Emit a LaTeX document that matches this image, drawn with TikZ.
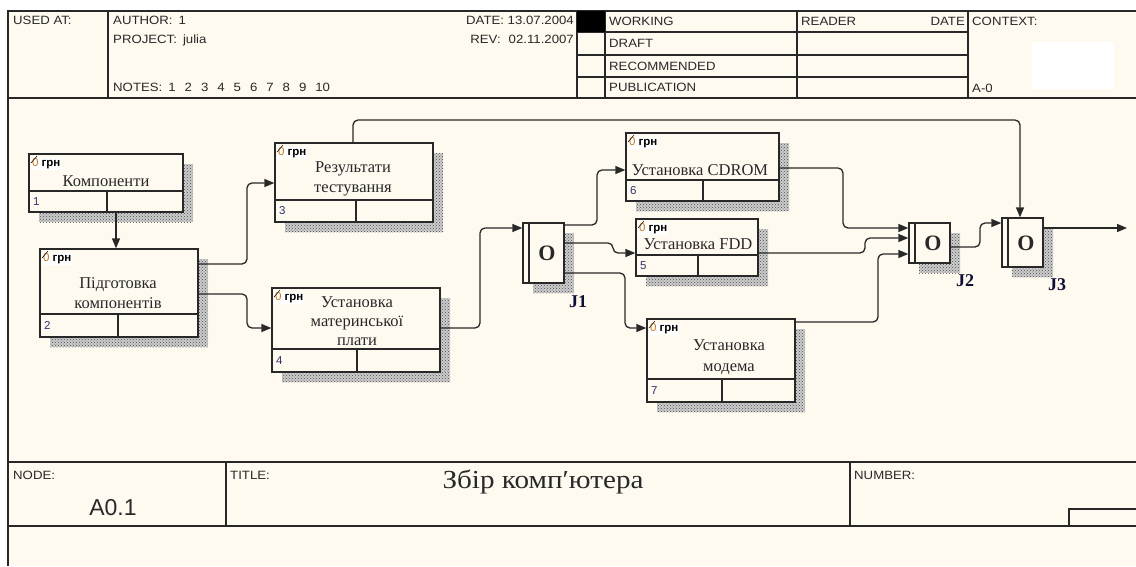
\documentclass[tikz,border=0pt]{standalone}
\usepackage{fontspec}
\setmainfont{Liberation Serif}
\setsansfont{Liberation Sans}
\newfontfamily\hdrfont[FakeStretch=1.1]{Liberation Sans}
\usetikzlibrary{arrows.meta,patterns,fit}
\definecolor{bg}{RGB}{255,250,240}
\definecolor{ln}{RGB}{40,40,40}
\definecolor{zero}{RGB}{200,120,30}
\definecolor{numc}{RGB}{50,50,110}
\newcommand\actbox[8]{%
  \fill[shadowst] (#2+10,#3+10) rectangle (#4+10,#5+10);
  \fill[shadowpat] (#2+10,#3+10) rectangle (#4+10,#5+10);
  \node[actst, fit={(#2,#3) (#4,#5)}] (#1) {};
  \draw[boxln] (#2,#6) -- (#4,#6) (#7,#6) -- (#7,#5);
  \node[costst] at (#2+2,#3+10) {\textcolor{zero}{\mdseries 0} грн};
  \draw[line width=0.5pt] (#2+2,#3+9) -- (#2+8,#3+2);
  \node[numst] at (#2+4,{(#6+#5)/2}) {#8};
}
\newcommand\jshadow[4]{%
  \fill[shadowst] (#1,#2) rectangle (#3,#4);
  \fill[shadowpat] (#1,#2) rectangle (#3,#4);
}
\begin{document}
\begin{tikzpicture}[x=1pt,y=-1pt,
  frame/.style={draw=ln,line width=1.6pt},
  boxln/.style={draw=ln,line width=1.2pt},
  shadowst/.style={fill=gray!40},
  shadowpat/.style={pattern=crosshatch dots,pattern color=black!70},
  actst/.style={draw=ln,fill=bg,line width=1.3pt,inner sep=0pt},
  juncst/.style={draw=ln,fill=bg,line width=1.3pt,inner sep=0pt},
  costst/.style={anchor=west,fill=white,inner sep=0.8pt,font=\sffamily\bfseries\fontsize{11.5}{12}\selectfont},
  numst/.style={anchor=west,inner sep=0pt,text=numc,font=\sffamily\fontsize{11.5}{12}\selectfont},
  btext/.style={align=center,inner sep=0pt,font=\fontsize{16.5}{20}\selectfont,text=ln},
  ofont/.style={inner sep=0pt,font=\bfseries\fontsize{22}{24}\selectfont,text=ln},
  jlab/.style={inner sep=0pt,font=\bfseries\fontsize{18}{20}\selectfont,text=ln!70!blue!50!black},
  hdr/.style={anchor=base west,inner sep=0pt,text=ln,font=\hdrfont\fontsize{12}{13}\selectfont},
  hdrr/.style={hdr,anchor=base east},
  conn/.style={draw=ln,line width=1.3pt,rounded corners=5pt,-{Triangle[length=10pt,width=8pt]}}
]
\useasboundingbox (0,0) rectangle (1136,566);
\fill[white] (0,0) rectangle (1136,566);
\fill[bg] (8,11) rectangle (1136,566);
% ---- header frame
\draw[frame] (1136,11) -- (8,11) -- (8,566);
\draw[frame] (8,98) -- (1136,98);
\draw[frame] (108,11) -- (108,98);
\draw[frame] (577,11) -- (577,98);
\draw[frame] (605,11) -- (605,98);
\draw[frame] (797,11) -- (797,98);
\draw[frame] (968,11) -- (968,98);
\draw[frame] (577,32) -- (968,32) (577,55) -- (968,55) (577,77) -- (968,77);
\fill[black] (577,11) rectangle (605,32);
\fill[white] (1032,42) rectangle (1114,89);
% ---- header text
\node[hdr] (usedat) at (13,24) {USED AT:};
\node[hdr] (author) at (113,24) {AUTHOR:\hspace{6pt}1};
\node[hdr] (project) at (113,43) {PROJECT:\hspace{6pt}julia};
\node[hdr] (notes) at (113,91) {NOTES:\hspace{6pt}1\hspace{9pt}2\hspace{9pt}3\hspace{9pt}4\hspace{9pt}5\hspace{9pt}6\hspace{9pt}7\hspace{9pt}8\hspace{9pt}9\hspace{9pt}10};
\node[hdrr] (date) at (574,24) {DATE: 13.07.2004};
\node[hdrr] (rev) at (574,43) {REV:\hspace{8pt}02.11.2007};
\node[hdr] (working) at (609,25) {WORKING};
\node[hdr] (draft) at (609,47) {DRAFT};
\node[hdr] (recom) at (609,70) {RECOMMENDED};
\node[hdr] (public) at (609,91) {PUBLICATION};
\node[hdr] (reader) at (801,25) {READER};
\node[hdrr] (rdate) at (965,25) {DATE};
\node[hdr] (context) at (972,25) {CONTEXT:};
\node[hdr] (azero) at (972,92) {A-0};
% ---- footer
\draw[frame] (8,462) -- (1136,462);
\draw[frame] (8,526) -- (1136,526);
\draw[frame] (226,462) -- (226,526);
\draw[frame] (850,462) -- (850,526);
\draw[boxln] (1136,509) -- (1069,509) -- (1069,526);
\node[hdr] (nodelbl) at (13,479) {NODE:};
\node[hdr] (titlelbl) at (230,479) {TITLE:};
\node[hdr] (numlbl) at (854,479) {NUMBER:};
\node[inner sep=0pt,text=ln,font=\sffamily\fontsize{23}{26}\selectfont] (nodeno) at (113,508) {A0.1};
\node[inner sep=0pt,text=ln,font=\fontsize{26}{28}\selectfont\addfontfeature{FakeStretch=1.12},anchor=base] (title) at (543,488) {Збір комп′ютера};
% ---- activity boxes
\actbox{b1}{29}{154}{183}{212}{191}{107}{1}
\actbox{b2}{40}{249}{198}{337}{314}{118}{2}
\actbox{b3}{275}{143}{433}{222}{200}{356}{3}
\actbox{b4}{272}{288}{440}{372}{349}{357}{4}
\actbox{b6}{626}{133}{779}{201}{180}{703}{6}
\actbox{b5}{636}{219}{758}{276}{255}{698}{5}
\actbox{b7}{647}{319}{795}{402}{379}{722}{7}
\node[btext] (t1) at (106,181) {Компоненти};
\node[btext] (t2) at (118,293) {Підготовка\\компонентів};
\node[btext] (t3) at (353,179) {Результати\\тестування};
\node[btext,font=\fontsize{16.5}{19}\selectfont] (t4) at (357,321) {Установка\\материнської\\плати};
\node[btext] (t6) at (700,170) {Установка CDROM};
\node[btext] (t5) at (698,244) {Установка FDD};
\node[btext,font=\fontsize{16.5}{21}\selectfont] (t7) at (729,357) {Установка\\модема};
% ---- junctions
\jshadow{533}{233}{574}{293}
\node[juncst, fit={(523,223) (564,283)}] (j1) {};
\draw[boxln] (529,223) -- (529,283);
\node[ofont] (o1) at (547,253) {O};
\node[jlab] (l1) at (578,302) {J1};
\jshadow{919}{233}{960}{273}
\node[juncst, fit={(909,223) (950,263)}] (j2) {};
\draw[boxln] (915,223) -- (915,263);
\node[ofont] (o2) at (933,243) {O};
\node[jlab] (l2) at (965,281) {J2};
\jshadow{1012}{228}{1053}{277}
\node[juncst, fit={(1002,218) (1043,267)}] (j3) {};
\draw[boxln] (1008,218) -- (1008,267);
\node[ofont] (o3) at (1026,243) {O};
\node[jlab] (l3) at (1057,285) {J3};
\coordinate (out) at (1127,228);
% ---- connectors
\draw[conn] (116,0 |- b1.south) -- (116,0 |- b2.north);
\draw[conn] (b2.east |- 0,264) -- (247,264) -- (247,183) -- (b3.west |- 0,183);
\draw[conn] (b2.east |- 0,294) -- (247,294) -- (247,328) -- (b4.west |- 0,328);
\draw[conn] (353,0 |- b3.north) -- (353,120) -- (1020,120) -- (1020,0 |- j3.north);
\draw[conn] (b4.east |- 0,328) -- (480,328) -- (480,228) -- (j1.west |- 0,228);
\draw[conn] (j1.east |- 0,225) -- (597,225) -- (597,170) -- (b6.west |- 0,170);
\draw[conn] (j1.east |- 0,243) -- (613,243) -- (613,253) -- (b5.west |- 0,253);
\draw[conn] (j1.east |- 0,273) -- (625,273) -- (625,328) -- (b7.west |- 0,328);
\draw[conn] (b6.east |- 0,168) -- (843,168) -- (843,228) -- (j2.west |- 0,228);
\draw[conn] (b5.east |- 0,253) -- (865,253) -- (865,238) -- (j2.west |- 0,238);
\draw[conn] (b7.east |- 0,322) -- (878,322) -- (878,254) -- (j2.west |- 0,254);
\draw[conn] (j2.east |- 0,247) -- (980,247) -- (980,223) -- (j3.west |- 0,223);
\draw[conn] (j3.east |- 0,228) -- (out);
\end{tikzpicture}
\end{document}
